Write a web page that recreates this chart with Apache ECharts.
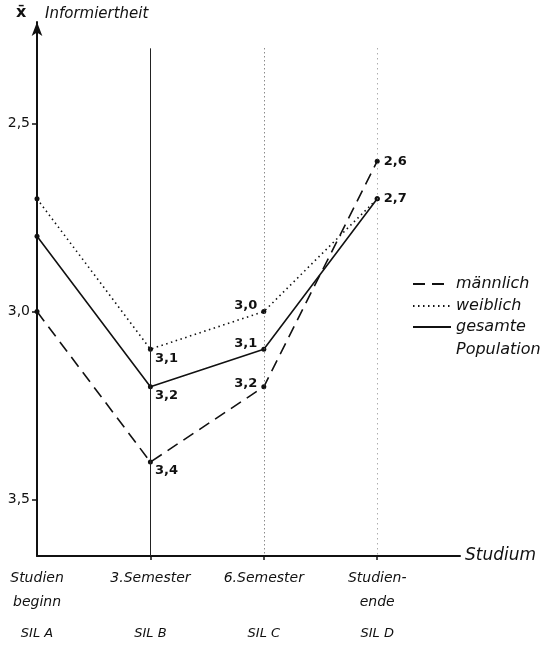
<!DOCTYPE html>
<html><head><meta charset="utf-8">
<script src="https://cdn.jsdelivr.net/npm/echarts@6/dist/echarts.min.js"></script>
<style>html,body{margin:0;padding:0;background:#fff}#c{width:551px;height:653px}</style>
</head><body><div id="c"></div>
<script>
// ---- data ----
const categories = ['Studien\nbeginn', '3.Semester', '6.Semester', 'Studien-\nende'];
const stages = ['SIL A', 'SIL B', 'SIL C', 'SIL D'];
const maennlich = [3.0, 3.4, 3.2, 2.6];
const weiblich = [2.7, 3.1, 3.0, 2.7];
const gesamt = [2.8, 3.2, 3.1, 2.7];
const labelsMaennlich = [null, '3,4', '3,2', '2,6'];
const labelsWeiblich = [null, '3,1', '3,0', null];
const labelsGesamt = [null, '3,2', '3,1', '2,7'];
const yTicks = [2.5, 3.0, 3.5];
const yTickLabels = ['2,5', '3,0', '3,5'];
const guideStages = [1, 2, 3];
const guideTop = 2.3;

// ---- styling ----
const FONT = 'DejaVu Sans';
const INK = '#111';
const yMin = 2.23, yMax = 3.65, xMax = 3.73;

const placeRightBelow = { position: 'right', offset: [-3, 9] };
const placeLeftAbove = { position: 'left', offset: [1, -6] };
const placeLeft = { position: 'left', offset: [1, -3] };
const placeRight = { position: 'right', offset: [-1, 0] };
const placements = {
  'männlich': [null, placeRightBelow, placeLeft, placeRight],
  'weiblich': [null, placeRightBelow, placeLeftAbove, placeRight],
  'gesamte Population': [null, placeRightBelow, placeLeftAbove, placeRight]
};

function mk(name, values, labels, lineType, width) {
  return {
    name: name, type: 'line',
    data: values.map((v, i) => ({
      value: [i, v],
      label: labels[i] ? Object.assign({ show: true, formatter: labels[i] }, placements[name][i]) : { show: false }
    })),
    symbol: 'circle', symbolSize: 5,
    lineStyle: { color: INK, width: width, type: lineType },
    itemStyle: { color: INK },
    label: { color: INK, fontSize: 13, fontWeight: 'bold', fontFamily: FONT },
    emphasis: { disabled: true },
    animation: false,
    z: 3
  };
}

const sM = mk('männlich', maennlich, labelsMaennlich, [12, 7], 1.6);
const sW = mk('weiblich', weiblich, labelsWeiblich, [1.5, 3.5], 1.6);
const sG = mk('gesamte Population', gesamt, labelsGesamt, 'solid', 1.6);

const guideStyles = [
  { type: 'solid', color: '#222', width: 1 },
  { type: [1, 3], color: '#555', width: 1 },
  { type: [1, 4], color: '#888', width: 1 }
];
sM.markLine = {
  silent: true, symbol: 'none', animation: false, label: { show: false },
  data: guideStages.map((s, i) => [
    { coord: [s, guideTop], lineStyle: guideStyles[i] },
    { coord: [s, yMax] }
  ])
};

const legendText = { fontFamily: FONT, fontSize: 16, fontStyle: 'italic', color: INK };

const chart = echarts.init(document.getElementById('c'), null, { renderer: 'canvas' });
chart.setOption({
  backgroundColor: '#fff',
  animation: false,
  title: [
    { text: 'x\u0304', left: 11, top: 0, textStyle: { fontFamily: FONT, fontSize: 16, fontWeight: 'bold', color: INK } },
    { text: 'Informiertheit', left: 40, top: 2, textStyle: { fontFamily: FONT, fontSize: 15, fontStyle: 'italic', fontWeight: 'normal', color: INK } }
  ],
  grid: { left: 37, top: 22, right: 91, bottom: 97, containLabel: false, outerBoundsMode: 'none' },
  xAxis: {
    type: 'value', min: 0, max: xMax,
    splitLine: { show: false },
    axisLine: { show: true, onZero: false, lineStyle: { color: INK, width: 2 } },
    axisTick: { show: true, customValues: guideStages, length: 4, inside: false, lineStyle: { color: INK, width: 1.5 } },
    axisLabel: {
      customValues: [0, 1, 2, 3], margin: 10, color: INK,
      formatter: function (v) {
        const i = Math.round(v);
        const lines = categories[i].split('\n');
        while (lines.length < 2) lines.push(' ');
        return lines.map(l => '{a|' + l + '}').join('\n') + '\n{s|' + stages[i] + '}';
      },
      rich: {
        a: { fontFamily: FONT, fontSize: 14, fontStyle: 'italic', lineHeight: 24, color: INK },
        s: { fontFamily: FONT, fontSize: 13, fontStyle: 'italic', lineHeight: 26, verticalAlign: 'bottom', color: INK }
      }
    },
    name: 'Studium', nameLocation: 'end', nameGap: 5,
    nameTextStyle: { fontFamily: FONT, fontSize: 17, fontStyle: 'italic', color: INK }
  },
  yAxis: {
    type: 'value', inverse: true, min: yMin, max: yMax,
    splitLine: { show: false },
    axisLine: { show: true, onZero: false, symbol: ['none', 'arrow'], symbolSize: [8, 14], lineStyle: { color: INK, width: 2 } },
    axisTick: { show: true, customValues: yTicks, length: 5, lineStyle: { color: INK, width: 1.5 } },
    axisLabel: {
      customValues: yTicks, margin: 7, color: INK, fontFamily: FONT, fontSize: 14,
      formatter: function (v) { return yTickLabels[yTicks.indexOf(Math.round(v * 10) / 10)]; }
    }
  },
  legend: [
    {
      data: ['männlich', 'weiblich'], orient: 'vertical', left: 407, top: 271,
      itemWidth: 38, itemHeight: 10, itemGap: 6,
      itemStyle: { opacity: 0 },
      textStyle: legendText,
      selectedMode: false
    },
    {
      data: ['gesamte Population'], orient: 'vertical', left: 407, top: 291,
      itemWidth: 38, itemHeight: 10,
      itemStyle: { opacity: 0 },
      formatter: function () { return '{a| }\n{a|gesamte}\n{a|Population}'; },
      textStyle: Object.assign({ rich: { a: Object.assign({ lineHeight: 23 }, legendText) } }, legendText),
      selectedMode: false
    }
  ],
  series: [sM, sW, sG]
});
</script>
</body></html>
